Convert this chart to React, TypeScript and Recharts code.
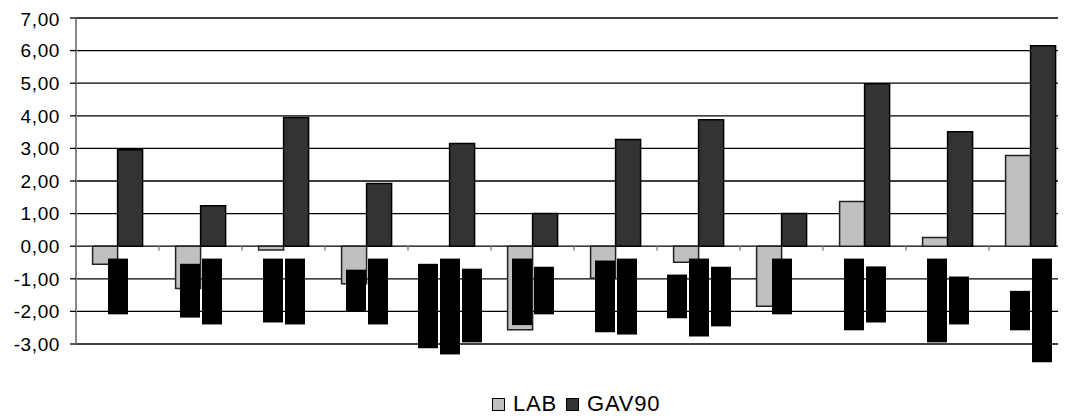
import React from "react";
import { BarChart, Bar, XAxis, YAxis, CartesianGrid, ReferenceLine } from "recharts";

const categories = ["1", "2", "3", "4", "5", "6", "7", "8", "9", "10", "11", "12"];
const lab = [-0.55, -1.3, -0.12, -1.15, 0, -2.56, -0.98, -0.49, -1.84, 1.37, 0.27, 2.78];
const gav90 = [2.96, 1.24, 3.95, 1.92, 3.15, 1.0, 3.27, 3.88, 1.0, 4.98, 3.51, 6.15];

// black range blocks below zero, up to three per category (top / bottom)
const blk1Top = [null, -0.54, -0.38, -0.72, -0.54, -0.38, -0.44, -0.87, null, -0.38, -0.38, -1.37];
const blk1Bot = [null, -2.19, -2.34, -2.01, -3.13, -2.42, -2.64, -2.21, null, -2.58, -2.95, -2.58];
const blk2Top = [-0.38, -0.38, -0.38, -0.38, -0.38, -0.63, -0.38, -0.38, -0.38, -0.62, -0.93, -0.38];
const blk2Bot = [-2.09, -2.4, -2.4, -2.4, -3.32, -2.09, -2.71, -2.77, -2.09, -2.34, -2.4, -3.56];
const blk3Top = [null, null, null, null, -0.69, null, null, -0.63, null, null, null, null];
const blk3Bot = [null, null, null, null, -2.95, null, null, -2.46, null, null, null, null];

const yTicks = [-3, -2, -1, 0, 1, 2, 3, 4, 5, 6, 7];

const FONT = "'Liberation Sans', Arial, sans-serif";

const range = (t: number | null, b: number | null) => (t == null || b == null ? null : [b, t]);

const data = categories.map((c, i) => {
  const b1 = range(blk1Top[i], blk1Bot[i]);
  const b2 = range(blk2Top[i], blk2Bot[i]);
  const b3 = range(blk3Top[i], blk3Bot[i]);
  return { cat: c, LAB: lab[i], GAV90: gav90[i], b1, b2, b3, n: [b1, b2, b3].filter(Boolean).length };
});

// blocks are laid out in 3 slots; categories with two blocks get centred
function Block(props: any) {
  const { x, y, width, height, payload } = props;
  if (x == null || height == null) return null;
  const shift = payload.n === 2 ? width / 2 : 0;
  const top = Math.min(y, y + height);
  return <rect x={x + shift + 1} y={top} width={width - 2} height={Math.abs(height)} fill="#000" />;
}

function Swatch({ color }: { color: string }) {
  return <span style={{ display: "inline-block", width: 11, height: 11, background: color, border: "1px solid #000" }} />;
}

export default function App() {
  return (
    <div style={{ position: "relative", width: 1058, height: 410, overflow: "hidden", fontFamily: FONT }}>
      <style>{".recharts-bar g{clip-path:none !important}"}</style>
      <BarChart width={1064} height={370} data={data} barCategoryGap="20%" barGap={0}
        margin={{ top: 10, right: 0, left: 0, bottom: 34 }}>
        <CartesianGrid vertical={false} stroke="#000" strokeWidth={1.3} />
        <XAxis dataKey="cat" hide />
        <XAxis dataKey="cat" xAxisId="blk" hide />
        <YAxis domain={[-3, 7]} ticks={yTicks} allowDataOverflow width={68}
          tickFormatter={(v: number) => v.toFixed(2).replace(".", ",")}
          tick={{ fontSize: 19, fill: "#000", fontFamily: FONT, letterSpacing: 0.6 }} tickMargin={10} tickSize={6}
          tickLine={{ stroke: "#000", strokeWidth: 1.3 }} axisLine={{ stroke: "#888", strokeWidth: 2 }} />
        <Bar dataKey="LAB" fill="#c0c0c0" stroke="#222" strokeWidth={1.5} isAnimationActive={false} />
        <Bar dataKey="GAV90" fill="#333333" stroke="#000" strokeWidth={1.5} isAnimationActive={false} />
        {categories.slice(1).map(c => (
          <ReferenceLine key={c} position="start" stroke="#888" strokeWidth={1.5}
            segment={[{ x: c, y: 0 }, { x: c, y: -0.13 }]} />
        ))}
        <Bar dataKey="b1" xAxisId="blk" barSize={22} shape={<Block />} isAnimationActive={false} />
        <Bar dataKey="b2" xAxisId="blk" barSize={22} shape={<Block />} isAnimationActive={false} />
        <Bar dataKey="b3" xAxisId="blk" barSize={22} shape={<Block />} isAnimationActive={false} />
      </BarChart>
      <div style={{ position: "absolute", left: 484, top: 384, height: 24, display: "flex", alignItems: "center", fontSize: 22, letterSpacing: 0.8, color: "#000" }}>
        <Swatch color="#c0c0c0" />
        <span style={{ marginLeft: 8, marginRight: 9 }}>LAB</span>
        <Swatch color="#333333" />
        <span style={{ marginLeft: 8 }}>GAV90</span>
      </div>
    </div>
  );
}
